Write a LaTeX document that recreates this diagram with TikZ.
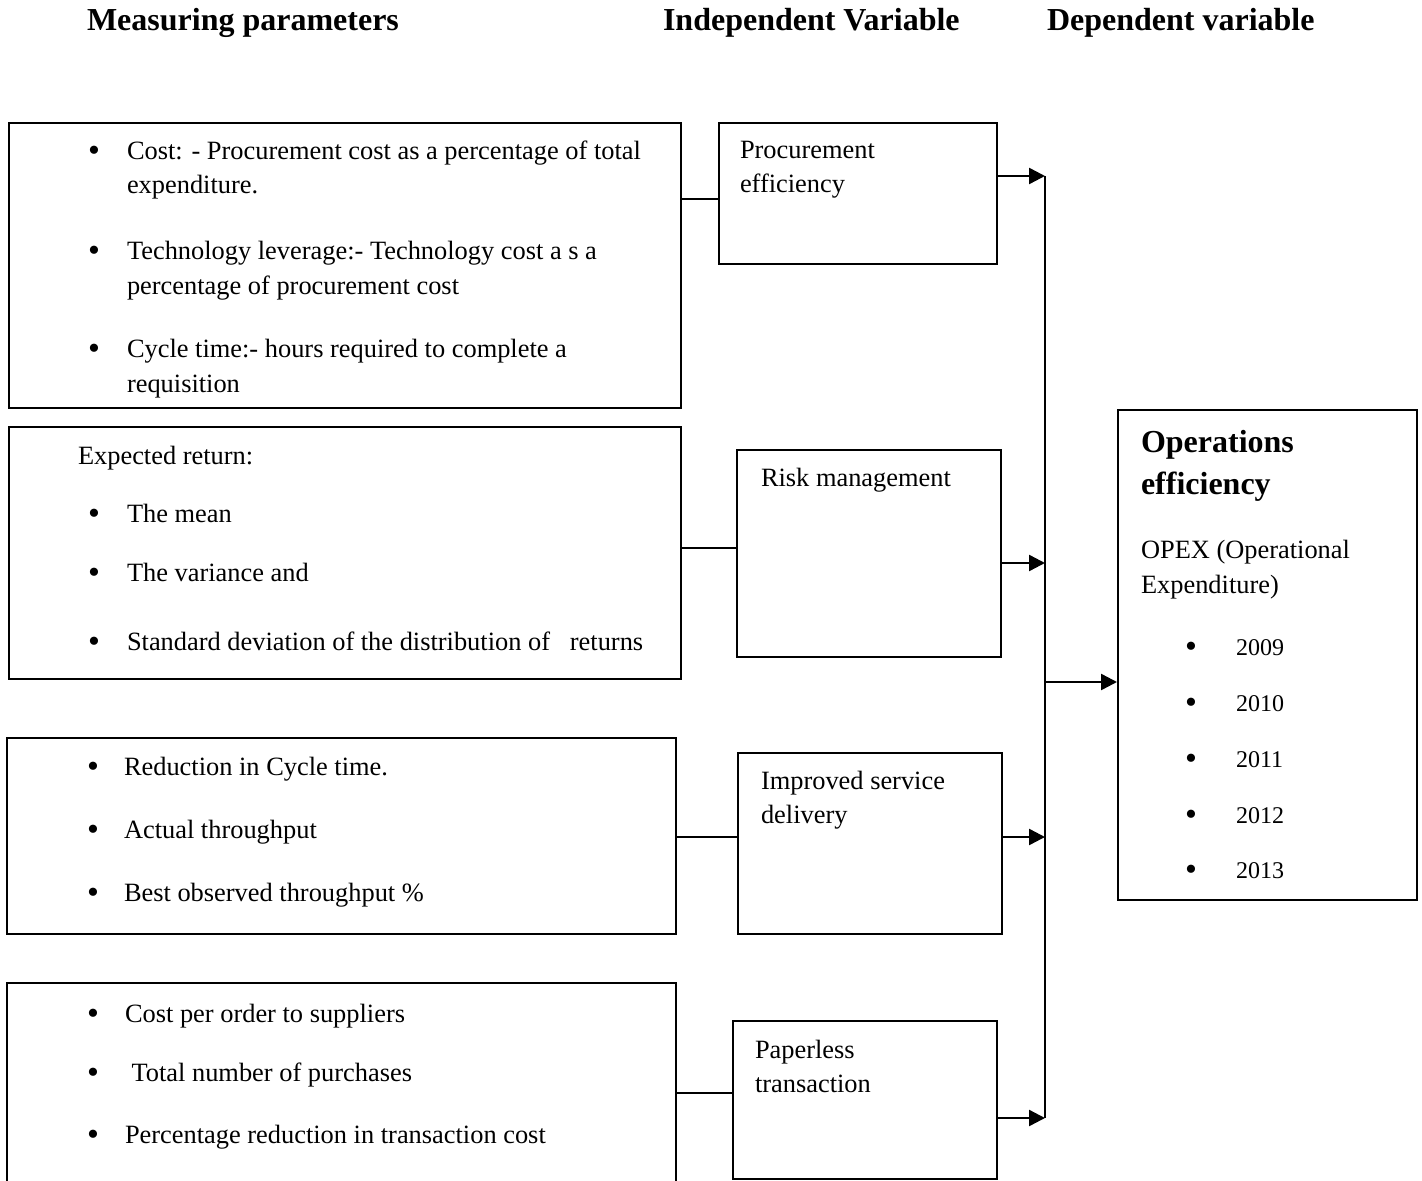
\documentclass[tikz,border=0pt]{standalone}
\usepackage{fontspec}
\setmainfont{Liberation Serif}
\usetikzlibrary{arrows.meta,fit}

\tikzset{every picture/.style={line width=1pt}}
\tikzset{
	box/.style={draw, inner sep=0pt},
	txt/.style={anchor=base west, inner sep=0pt, font=\fontsize{13.2}{15}\selectfont},
	yr/.style={anchor=base west, inner sep=0pt, font=\fontsize{12}{14}\selectfont},
	dot/.style={anchor=base west, inner sep=0pt, yshift=-1pt, font=\fontsize{17}{17}\selectfont},
	head/.style={anchor=base west, inner sep=0pt, font=\fontsize{16}{18}\selectfont\bfseries},
	big/.style={anchor=base west, inner sep=0pt, font=\fontsize{16}{18}\selectfont\bfseries},
	link/.style={line width=0.8pt},
	flow/.style={line width=1.2pt, -{Triangle[length=8pt,width=8pt]}}
}
% bullet line: name, bullet x, text x, baseline, text
\newcommand{\bitem}[6][txt]{%
	\node[dot] (#2b) at (#3,#5) {\textbullet};
	\node[#1] (#2) at (#4,#5) {#6};}

\begin{document}
\begin{tikzpicture}[x=0.5pt,y=-0.5pt]
	\clip (0,0) rectangle (1422,1181);
	
	% column headings
	\node[head] (hmeas) at (86,31) {Measuring parameters};
	\node[head] (hind) at (662,31) {Independent Variable};
	\node[head] (hdep) at (1046,31) {Dependent variable};
	
	% measuring parameter boxes
	\node[box, fit={(9,123) (681,408)}] (m1) {};
	\node[box, fit={(9,427) (681,679)}] (m2) {};
	\node[box, fit={(7,738) (676,934)}] (m3) {};
	\node[box, fit={(7,983) (676,1190)}] (m4) {};
	
	% independent variable boxes
	\node[box, fit={(719,123) (997,264)}] (p1) {};
	\node[box, fit={(737,450) (1001,657)}] (p2) {};
	\node[box, fit={(738,753) (1002,934)}] (p3) {};
	\node[box, fit={(733,1021) (997,1179)}] (p4) {};
	
	% dependent variable box
	\node[box, fit={(1118,410) (1417,900)}] (ops) {};
	
	% texts of m1
	\bitem{ma}{87}{126}{160}{Cost: - Procurement cost as a percentage of total}
	\node[txt] (ma2) at (126,194) {expenditure.};
	\bitem{mb}{87}{126}{260}{Technology leverage:- Technology cost a s a}
	\node[txt] (mb2) at (126,295) {percentage of procurement cost};
	\bitem{mc}{87}{126}{358}{Cycle time:- hours required to complete a}
	\node[txt] (mc2) at (126,393) {requisition};
	
	% texts of m2
	\node[txt] (md) at (77,465) {Expected return:};
	\bitem{me}{87}{126}{522}{The mean}
	\bitem{mf}{87}{126}{581}{The variance and}
	\bitem{mg}{87}{126}{650}{Standard deviation of the distribution of \ \ returns}
	
	% texts of m3
	\bitem{mh}{86}{123}{775}{Reduction in Cycle time.}
	\bitem{mi}{86}{123}{838}{Actual throughput}
	\bitem{mj}{86}{123}{901}{Best observed throughput \%}
	
	% texts of m4
	\bitem{mk}{86}{124}{1022}{Cost per order to suppliers}
	\bitem{ml}{86}{124}{1081}{\ Total number of purchases}
	\bitem{mm}{86}{124}{1143}{Percentage reduction in transaction cost}
	
	% texts of independent variables
	\node[txt] (pa) at (739,159) {Procurement};
	\node[txt] (pa2) at (739,193) {efficiency};
	\node[txt] (pb) at (760,486) {Risk management};
	\node[txt] (pc) at (760,789) {Improved service};
	\node[txt] (pc2) at (760,823) {delivery};
	\node[txt] (pd) at (754,1058) {Paperless};
	\node[txt] (pd2) at (754,1092) {transaction};
	
	% texts of dependent variable
	\node[big] (oa) at (1140,452) {Operations};
	\node[big] (oa2) at (1140,494) {efficiency};
	\node[txt] (ob) at (1140,558) {OPEX (Operational};
	\node[txt] (ob2) at (1140,593) {Expenditure)};
	\bitem[yr]{y1}{1184}{1235}{655}{2009}
	\bitem[yr]{y2}{1184}{1235}{711}{2010}
	\bitem[yr]{y3}{1184}{1235}{767}{2011}
	\bitem[yr]{y4}{1184}{1235}{823}{2012}
	\bitem[yr]{y5}{1184}{1235}{878}{2013}
	
	% links between parameter and variable boxes
	\coordinate (l1) at (700,199);
	\coordinate (l2) at (700,548);
	\coordinate (l3) at (700,837);
	\coordinate (l4) at (700,1093);
	\draw[link] (m1.east |- l1) -- (p1.west |- l1);
	\draw[link] (m2.east |- l2) -- (p2.west |- l2);
	\draw[link] (m3.east |- l3) -- (p3.west |- l3);
	\draw[link] (m4.east |- l4) -- (p4.west |- l4);
	
	% bus to dependent variable
	\coordinate (bus1) at (1045,176);
	\coordinate (bus2) at (1045,563);
	\coordinate (bus3) at (1045,837);
	\coordinate (bus4) at (1045,1118);
	\coordinate (bus0) at (1045,682);
	\draw[flow] (p1.east |- bus1) -- (bus1);
	\draw[flow] (p2.east |- bus2) -- (bus2);
	\draw[flow] (p3.east |- bus3) -- (bus3);
	\draw[flow] (p4.east |- bus4) -- (bus4);
	\draw[line width=1.2pt] (bus1) -- (bus4);
	\draw[flow] (bus0) -- (ops.west |- bus0);
	
\end{tikzpicture}
\end{document}
